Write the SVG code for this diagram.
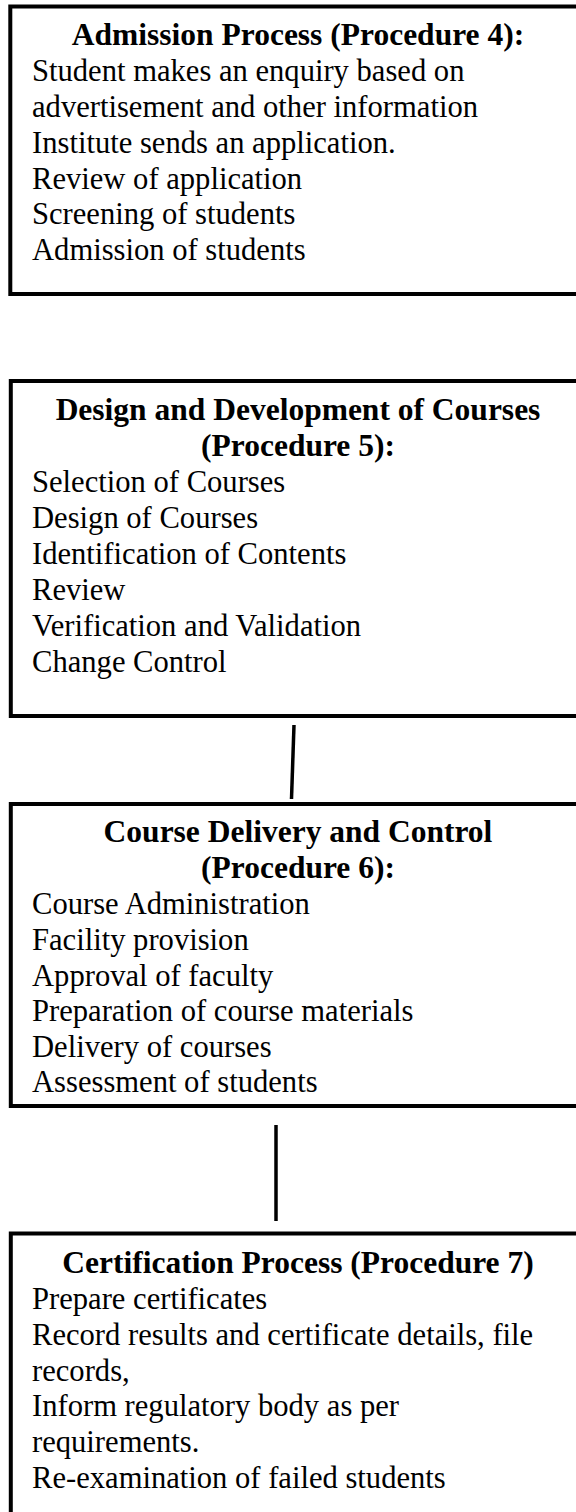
<svg xmlns="http://www.w3.org/2000/svg" width="576" height="1512" viewBox="0 0 576 1512">
  <style>
    .box { fill: #ffffff; stroke: #000000; stroke-width: 4; }
    .link { stroke: #000000; stroke-width: 3.5; fill: none; }
    .title { font-family: "Liberation Serif", "Times New Roman", serif; font-weight: bold; font-size: 31.5px; fill: #000000; text-anchor: middle; }
    .item { font-family: "Liberation Serif", "Times New Roman", serif; font-size: 30.6px; fill: #000000; }
  </style>
  <rect x="0" y="0" width="576" height="1512" fill="#ffffff"/>

  <!-- Procedure 4 -->
  <g id="admission">
    <rect class="box" x="10.3" y="6.5" width="580" height="287.5"/>
    <text class="title" x="298" y="44.5">Admission Process (Procedure 4):</text>
    <text class="item" x="32" y="81">Student makes an enquiry based on</text>
    <text class="item" x="32" y="117">advertisement and other information</text>
    <text class="item" x="32" y="152.7">Institute sends an application.</text>
    <text class="item" x="32" y="188.5">Review of application</text>
    <text class="item" x="32" y="224">Screening of students</text>
    <text class="item" x="32" y="260">Admission of students</text>
  </g>

  <!-- Procedure 5 -->
  <g id="design">
    <rect class="box" x="10.8" y="381" width="580" height="335"/>
    <text class="title" x="298" y="420">Design and Development of Courses</text>
    <text class="title" x="298" y="456">(Procedure 5):</text>
    <text class="item" x="32" y="492">Selection of Courses</text>
    <text class="item" x="32" y="528">Design of Courses</text>
    <text class="item" x="32" y="564">Identification of Contents</text>
    <text class="item" x="32" y="600">Review</text>
    <text class="item" x="32" y="636">Verification and Validation</text>
    <text class="item" x="32" y="672">Change Control</text>
  </g>

  <!-- Procedure 6 -->
  <g id="delivery">
    <rect class="box" x="10.8" y="804" width="580" height="302"/>
    <text class="title" x="298" y="842">Course Delivery and Control</text>
    <text class="title" x="298" y="878">(Procedure 6):</text>
    <text class="item" x="32" y="914">Course Administration</text>
    <text class="item" x="32" y="950">Facility provision</text>
    <text class="item" x="32" y="985.5">Approval of faculty</text>
    <text class="item" x="32" y="1021">Preparation of course materials</text>
    <text class="item" x="32" y="1056.5">Delivery of courses</text>
    <text class="item" x="32" y="1092">Assessment of students</text>
  </g>

  <!-- Procedure 7 -->
  <g id="certification">
    <rect class="box" x="10.8" y="1233.5" width="580" height="300"/>
    <text class="title" x="298" y="1272.7">Certification Process (Procedure 7)</text>
    <text class="item" x="32" y="1308.5">Prepare certificates</text>
    <text class="item" x="32" y="1345">Record results and certificate details, file</text>
    <text class="item" x="32" y="1380.5">records,</text>
    <text class="item" x="32" y="1416">Inform regulatory body as per</text>
    <text class="item" x="32" y="1452">requirements.</text>
    <text class="item" x="32" y="1488">Re-examination of failed students</text>
  </g>

  <!-- connectors -->
  <g id="connectors">
    <line class="link" x1="294" y1="725" x2="291.5" y2="799"/>
    <line class="link" x1="276" y1="1125" x2="276" y2="1221"/>
  </g>
</svg>
